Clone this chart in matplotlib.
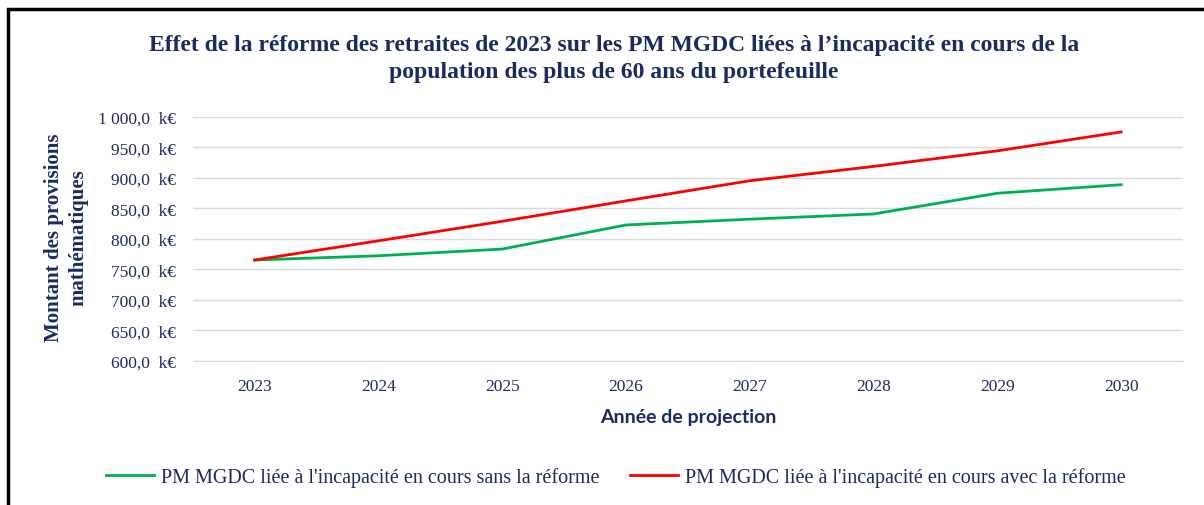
import matplotlib.pyplot as plt
from matplotlib.patches import Rectangle
from matplotlib.ticker import FuncFormatter

years = ['2023', '2024', '2025', '2026', '2027', '2028', '2029', '2030']
pm_sans_reforme = [765.5, 772.5, 783.5, 823.0, 832.5, 841.0, 875.0, 889.0]
pm_avec_reforme = [765.5, 797.0, 829.0, 862.5, 895.5, 919.0, 944.5, 975.5]

navy = '#1A2B5F'
serif = ['Liberation Serif', 'DejaVu Serif']

fig = plt.figure(figsize=(12.04, 5.06), dpi=100)
ax = fig.add_axes([0.160, 0.2846, 0.8226, 0.4822])

# cadre noir autour du graphique
fig.patches.append(Rectangle((8 / 1204, -0.05), 1.2, 1 - 10 / 506 + 0.05,
                             transform=fig.transFigure, fill=False,
                             edgecolor='black', linewidth=2.5))

x = range(len(years))
ax.plot(x, pm_sans_reforme, color='#00B050', linewidth=2,
        label="PM MGDC liée à l'incapacité en cours sans la réforme")
ax.plot(x, pm_avec_reforme, color='#FF0000', linewidth=2,
        label="PM MGDC liée à l'incapacité en cours avec la réforme")

ax.set_xlim(-0.5, len(years) - 0.5)
ax.set_ylim(600, 1000)
ax.set_yticks(range(600, 1001, 50))
ax.set_xticks(list(x))
ax.set_xticklabels(years)


def fmt(v, pos):
    s = f'{v:,.1f}'.replace(',', ' ').replace('.', ',')
    return s + '  k€'


ax.yaxis.set_major_formatter(FuncFormatter(fmt))
ax.grid(axis='y', color='#D9D9D9', linewidth=1)
ax.set_axisbelow(True)
for side in ['top', 'right', 'left']:
    ax.spines[side].set_visible(False)
ax.spines['bottom'].set_color('#D9D9D9')
ax.tick_params(length=0, colors=navy, labelsize=12.5, pad=12)
for lab in ax.get_xticklabels() + ax.get_yticklabels():
    lab.set_family(serif)
ax.tick_params(axis='x', pad=12)

ax.set_xlabel('Année de projection', fontsize=14, fontweight='bold',
              color=navy, family=['Lato', 'DejaVu Sans'], labelpad=10)
fig.text(66 / 1204, 1 - 238 / 506, 'Montant des provisions\nmathématiques',
         rotation=90, ha='center', va='center', fontsize=15, fontweight='bold',
         color=navy, family=serif, linespacing=1.3)

fig.text(614 / 1204, 1 - 59 / 506,
         "Effet de la réforme des retraites de 2023 sur les PM MGDC liées à l’incapacité en cours de la\n"
         "population des plus de 60 ans du portefeuille",
         ha='center', va='center', fontsize=17, fontweight='bold',
         color=navy, family=serif, linespacing=1.4)

leg = fig.legend(loc='center', bbox_to_anchor=(616 / 1204, 1 - 478 / 506),
                 ncol=2, frameon=False, handlelength=2.4, handletextpad=0.35,
                 columnspacing=1.5, prop={'family': serif, 'size': 14.5})
for t in leg.get_texts():
    t.set_color(navy)

fig.savefig('out.png', dpi=100)
